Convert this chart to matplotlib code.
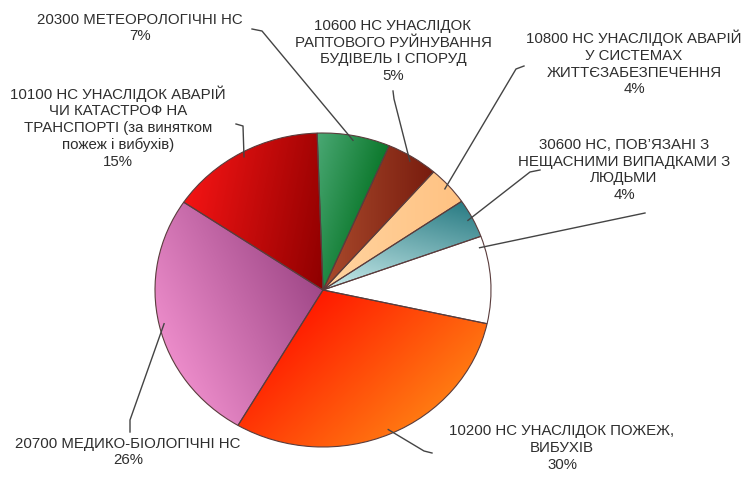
import numpy as np
import matplotlib.pyplot as plt
from matplotlib.colors import LinearSegmentedColormap

plt.rcParams['font.family'] = ['Liberation Sans', 'DejaVu Sans']

# slices, clockwise from 12 o'clock
labels = [
    '20300 МЕТЕОРОЛОГІЧНІ НС',
    '10600 НС УНАСЛІДОК\nРАПТОВОГО РУЙНУВАННЯ\nБУДІВЕЛЬ І СПОРУД',
    '10800 НС УНАСЛІДОК АВАРІЙ\nУ СИСТЕМАХ\nЖИТТЄЗАБЕЗПЕЧЕННЯ',
    '30600 НС, ПОВ’ЯЗАНІ З\nНЕЩАСНИМИ ВИПАДКАМИ З\nЛЮДЬМИ',
    '',
    '10200 НС УНАСЛІДОК ПОЖЕЖ,\nВИБУХІВ',
    '20700 МЕДИКО-БІОЛОГІЧНІ НС',
    '10100 НС УНАСЛІДОК АВАРІЙ\nЧИ КАТАСТРОФ НА\nТРАНСПОРТІ (за винятком\nпожеж і вибухів)',
]
percents = [7, 5, 4, 4, 9, 30, 26, 15]

# two-stop gradient per slice and its direction (degrees)
grad_from = ['#4aa874', '#aa4a2c', '#ffd4a0', '#2a7c84', '#ffffff', '#ff1a00', '#a04888', '#f41414']
grad_to = ['#0c782c', '#781c0e', '#ffc282', '#cdeeee', '#ffffff', '#ff7a12', '#ec8cca', '#8e0000']
grad_dir = [-15, 0, 0, -105, 0, -45, 205, -10]

W, H = 744, 478
CX, CY, RX, RY = 323, 290, 168, 157


def px(x, y):
    return (x - CX) / RX, (CY - y) / RY


fig = plt.figure(figsize=(W / 100, H / 100), dpi=100)
ax = fig.add_axes([0, 0, 1, 1])

wedges, _ = ax.pie(percents, startangle=92, counterclock=False,
                   wedgeprops=dict(facecolor='none', edgecolor='#5a3c3c', linewidth=0.8, zorder=3))

gx, gy = np.meshgrid(np.linspace(-1, 1, 400), np.linspace(-1, 1, 400))
for w, c0, c1, a in zip(wedges, grad_from, grad_to, grad_dir):
    d = np.array([np.cos(np.radians(a)), np.sin(np.radians(a))])
    proj = gx * d[0] + gy * d[1]
    verts = w.get_path().vertices
    pv = verts @ d
    t = np.clip((proj - pv.min()) / (pv.max() - pv.min() + 1e-9), 0, 1)
    cmap = LinearSegmentedColormap.from_list('g', [c0, c1])
    im = ax.imshow(t, cmap=cmap, extent=(-1, 1, -1, 1), origin='lower',
                   interpolation='bilinear', aspect='auto', zorder=1, vmin=0, vmax=1)
    im.set_clip_path(w)

# label positions and leader elbows (pixels)
label_pos = [(140, 28), (393, 51), (634, 63), (624, 170), None, (562, 448), (128, 452), (118, 127)]
leaders = [
    [(252, 29), (262, 31)],
    [(393, 91), (394, 99)],
    [(524, 66), (516, 69)],
    [(540, 170), (530, 172)],
    [(645, 213)],
    [(432, 453), (424, 451)],
    [(130, 432), (130, 420)],
    [(236, 124), (243, 126)],
]
anchor_frac = [0.5, 0.5, 0.5, 0.5, 0.12, 0.5, 0.5, 0.5]

for i, w in enumerate(wedges):
    ang = w.theta2 - anchor_frac[i] * (w.theta2 - w.theta1)
    ax_, ay_ = 0.97 * np.cos(np.radians(ang)), 0.97 * np.sin(np.radians(ang))
    pts = [px(*p) for p in leaders[i]] + [(ax_, ay_)]
    ax.plot([p[0] for p in pts], [p[1] for p in pts], color='#444444', lw=1.0, zorder=4)
    if label_pos[i] is not None:
        tx, ty = px(*label_pos[i])
        ax.text(tx, ty, f'{labels[i]}\n{percents[i]}%', ha='center', va='center',
                fontsize=10.8, color='#2e2e2e', linespacing=1.23, zorder=5)

ax.set_aspect('auto')
ax.set_xlim(-CX / RX, (W - CX) / RX)
ax.set_ylim((CY - H) / RY, CY / RY)
ax.axis('off')

fig.savefig('out.png', dpi=100, facecolor='white')
